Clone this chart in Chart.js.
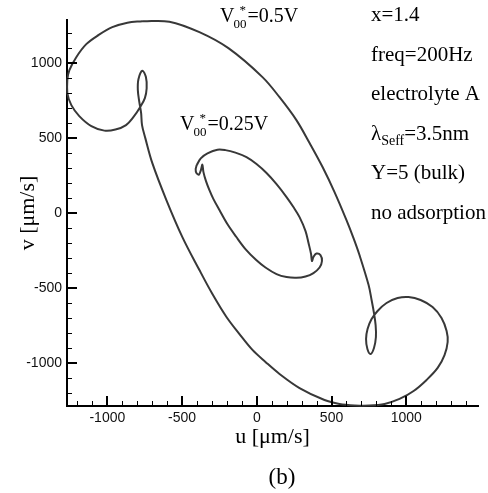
<!DOCTYPE html>
<html>
<head>
<meta charset="utf-8">
<script src="https://cdn.jsdelivr.net/npm/chart.js@4.4.0/dist/chart.umd.min.js"></script>
<style>
  body { margin: 0; background: #fff; }
  canvas { display: block; }
</style>
</head>
<body>
<canvas id="orbit" width="488" height="493"></canvas>
<script>
const uTicks = [-1000, -500, 0, 500, 1000];
const vTicks = [-1000, -500, 0, 500, 1000];

// V00* = 0.5V trajectory, u and v in um/s
const outerU = [-766, -585, -384, -190, 38, 152, 265, 353, 440, 520, 600, 647, 687, 748, 768, 784, 795, 797, 784, 761,
  740, 731, 741, 768, 808, 868, 942, 1015, 1096, 1176, 1236, 1270, 1277, 1256, 1210, 1136, 1049, 955, 855, 754,
  654, 553, 453, 286, 152, 58, -29, -116, -203, -297, -384, -498, -605, -699, -746, -768, -774, -786, -796, -792,
  -766, -742, -737, -749, -779, -826, -875, -946, -1020, -1107, -1188, -1241, -1268, -1268, -1254, -1208, -1141, -1060, -967, -866,
  -766];
const outerV = [1282, 1279, 1209, 1102, 909, 775, 622, 469, 309, 142, -45, -165, -278, -478, -578, -665, -745, -825, -898, -938,
  -905, -838, -771, -705, -651, -598, -565, -558, -578, -625, -698, -785, -858, -945, -1031, -1111, -1185, -1238, -1271, -1282,
  -1281, -1271, -1245, -1165, -1071, -991, -911, -805, -691, -538, -378, -158, 89, 335, 502, 589, 669, 742, 822, 895,
  952, 909, 835, 769, 712, 642, 589, 559, 552, 582, 649, 722, 802, 889, 955, 1042, 1129, 1189, 1242, 1272,
  1282];

// V00* = 0.25V trajectory
const innerU = [-402, -375, -330, -263, -210, -143, -69, -2, 65, 132, 199, 245, 286, 326, 346, 363, 369, 379, 399, 426,
  436, 420, 379, 326, 265, 199, 132, 58, -4, -76, -138, -197, -250, -290, -317, -340, -357, -364, -374, -387,
  -404, -409, -402];
const innerV = [322, 367, 400, 425, 422, 405, 375, 329, 269, 195, 109, 42, -25, -118, -198, -271, -318, -291, -268, -278,
  -318, -361, -398, -421, -430, -425, -405, -361, -311, -238, -156, -71, 22, 95, 155, 215, 275, 325, 289, 259,
  269, 295, 322];

const toPoints = (us, vs) => us.map((u, i) => ({ x: u, y: vs[i] }));

const serif = '"Liberation Serif", "Times New Roman", serif';

// ticks are drawn inside the axes, minor every 100
const inwardTicks = {
  id: 'inwardTicks',
  afterDraw(chart) {
    const { ctx, chartArea: a, scales: { x, y } } = chart;
    ctx.save();
    ctx.strokeStyle = '#000';
    for (let v = Math.ceil(x.min / 100) * 100; v <= x.max; v += 100) {
      const major = v % 500 === 0;
      const px = Math.round(x.getPixelForValue(v)) + (major ? 0 : 0.5);
      ctx.lineWidth = major ? 2 : 1;
      ctx.beginPath();
      ctx.moveTo(px, a.bottom);
      ctx.lineTo(px, a.bottom - (major ? 10 : 5));
      ctx.stroke();
    }
    for (let v = Math.ceil(y.min / 100) * 100; v <= y.max; v += 100) {
      const major = v % 500 === 0;
      const py = Math.round(y.getPixelForValue(v)) + (major ? 0 : 0.5);
      ctx.lineWidth = major ? 2 : 1;
      ctx.beginPath();
      ctx.moveTo(a.left, py);
      ctx.lineTo(a.left + (major ? 10 : 5), py);
      ctx.stroke();
    }
    ctx.restore();
  }
};

const notes = {
  id: 'notes',
  afterDraw(chart) {
    const ctx = chart.ctx;
    const big = '20px ' + serif;
    const small = '13px ' + serif;
    ctx.save();
    ctx.fillStyle = '#000';
    ctx.textBaseline = 'alphabetic';
    ctx.textAlign = 'left';

    const potential = (x, y, rest) => {
      ctx.font = big;
      ctx.fillText('V', x, y);
      let cx = x + ctx.measureText('V').width - 1;
      ctx.font = small;
      ctx.fillText('00', cx, y + 6);
      ctx.fillText('*', cx + 6, y - 8);
      cx += ctx.measureText('00').width + 1;
      ctx.font = big;
      ctx.fillText(rest, cx, y);
    };
    potential(220, 22, '=0.5V');
    potential(180, 130, '=0.25V');

    // parameter list on the right
    const noteFont = '21px ' + serif;
    const x0 = 371;
    const lines = ['x=1.4', 'freq=200Hz', 'electrolyte A', null, 'Y=5 (bulk)', 'no adsorption'];
    lines.forEach((t, i) => {
      const y = 21 + i * 39.5;
      ctx.font = noteFont;
      if (t) {
        ctx.fillText(t, x0, y);
        return;
      }
      ctx.fillText('λ', x0, y);
      let cx = x0 + ctx.measureText('λ').width;
      ctx.font = '14px ' + serif;
      ctx.fillText('Seff', cx, y + 5);
      cx += ctx.measureText('Seff').width;
      ctx.font = noteFont;
      ctx.fillText('=3.5nm', cx, y);
    });

    ctx.font = '23px ' + serif;
    ctx.textAlign = 'center';
    ctx.fillText('(b)', 282, 484);
    ctx.restore();
  }
};

const tickFont = { family: '"Liberation Sans", Arial, sans-serif', size: 14 };

new Chart(document.getElementById('orbit'), {
  type: 'scatter',
  data: {
    datasets: [
      {
        label: 'V00*=0.5V',
        data: toPoints(outerU, outerV),
        showLine: true,
        borderColor: '#383838',
        borderWidth: 2,
        pointRadius: 0,
        tension: 0.35,
        clip: false
      },
      {
        label: 'V00*=0.25V',
        data: toPoints(innerU, innerV),
        showLine: true,
        borderColor: '#383838',
        borderWidth: 2,
        pointRadius: 0,
        tension: 0.35,
        clip: false
      }
    ]
  },
  options: {
    responsive: false,
    animation: false,
    layout: { padding: { left: 0, right: 10, top: 20, bottom: 0 } },
    plugins: {
      legend: { display: false },
      tooltip: { enabled: false }
    },
    scales: {
      x: {
        type: 'linear',
        min: -1270,
        max: 1480,
        afterBuildTicks: (s) => { s.ticks = uTicks.map((value) => ({ value })); },
        afterFit: (s) => { s.height = 87; },
        grid: { display: false, drawTicks: false },
        border: { display: true, color: '#000', width: 2 },
        ticks: { color: '#111', font: tickFont, padding: 4, maxRotation: 0, callback: (v) => String(v) },
        title: {
          display: true,
          text: 'u [μm/s]',
          color: '#000',
          font: { family: serif, size: 22 },
          padding: { top: 0, bottom: 43 }
        }
      },
      y: {
        type: 'linear',
        min: -1285,
        max: 1290,
        afterBuildTicks: (s) => { s.ticks = vTicks.map((value) => ({ value })); },
        afterFit: (s) => { s.width = 67; },
        grid: { display: false, drawTicks: false },
        border: { display: true, color: '#000', width: 2 },
        ticks: { color: '#111', font: tickFont, padding: 5, callback: (v) => String(v) },
        title: {
          display: true,
          text: 'v [μm/s]',
          color: '#000',
          font: { family: serif, size: 22 },
          padding: { top: 15, bottom: 0 }
        }
      }
    }
  },
  plugins: [inwardTicks, notes]
});
</script>
</body>
</html>
